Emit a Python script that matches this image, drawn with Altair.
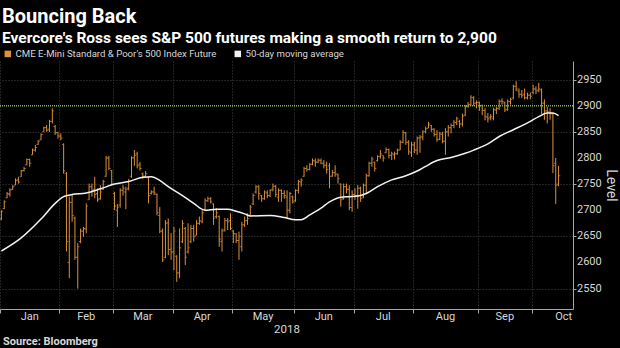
import altair as alt
import pandas as pd

# ---------------- data ----------------
SERIES_FUT = "CME E-Mini Standard & Poor's 500 Index Future"
SERIES_MA = "50-day moving average"

# one bar per trading day, index 0 = 2 Jan 2018
opens = [2683, 2703, 2724, 2730, 2740, 2748, 2758, 2764, 2776, 2787,
         2797, 2806, 2815, 2826, 2835, 2850, 2858, 2855, 2870, 2860,
         2848, 2842, 2826, 2770, 2600, 2715, 2685, 2610, 2640, 2660,
         2664, 2720, 2745, 2740, 2732, 2722, 2740, 2765, 2800, 2776,
         2732, 2700, 2710, 2738, 2735, 2742, 2765, 2800, 2808, 2788,
         2770, 2765, 2762, 2732, 2735, 2730, 2690, 2660, 2610, 2676,
         2625, 2620, 2612, 2580, 2640, 2665, 2620, 2640, 2665, 2652,
         2675, 2678, 2702, 2718, 2722, 2712, 2688, 2688, 2640, 2662,
         2680, 2680, 2660, 2655, 2642, 2630, 2672, 2680, 2690, 2712,
         2735, 2745, 2728, 2722, 2733, 2728, 2740, 2746, 2725, 2738,
         2732, 2725, 2700, 2726, 2718, 2738, 2754, 2765, 2780, 2778,
         2788, 2794, 2792, 2795, 2790, 2786, 2785, 2765, 2772, 2768,
         2750, 2722, 2745, 2740, 2705, 2730, 2728, 2742, 2725, 2748,
         2766, 2790, 2792, 2795, 2803, 2805, 2810, 2816, 2805, 2806,
         2808, 2815, 2830, 2848, 2830, 2810, 2825, 2815, 2838, 2840,
         2850, 2857, 2862, 2855, 2845, 2836, 2845, 2832, 2850, 2858,
         2862, 2868, 2870, 2865, 2882, 2899, 2902, 2915, 2905, 2906,
         2900, 2891, 2878, 2878, 2876, 2892, 2895, 2909, 2905, 2893,
         2908, 2915, 2937, 2928, 2922, 2922, 2915, 2920, 2925, 2932,
         2930, 2930, 2905, 2890, 2888, 2884, 2790, 2750]
highs = [2700, 2719, 2735, 2742, 2748, 2761, 2764, 2777, 2783, 2799,
         2799, 2818, 2825, 2834, 2847, 2860, 2863, 2873, 2895, 2863,
         2850, 2847, 2828, 2773, 2726, 2729, 2688, 2637, 2665, 2668,
         2713, 2751, 2751, 2764, 2742, 2748, 2758, 2804, 2804, 2777,
         2735, 2712, 2742, 2748, 2745, 2760, 2803, 2815, 2812, 2792,
         2772, 2775, 2764, 2738, 2745, 2732, 2706, 2665, 2681, 2684,
         2656, 2668, 2614, 2665, 2681, 2668, 2675, 2672, 2672, 2681,
         2688, 2700, 2723, 2726, 2725, 2713, 2704, 2690, 2665, 2685,
         2685, 2694, 2662, 2656, 2659, 2678, 2688, 2694, 2710, 2732,
         2748, 2748, 2729, 2738, 2738, 2740, 2751, 2748, 2742, 2740,
         2738, 2738, 2735, 2728, 2740, 2758, 2761, 2783, 2786, 2790,
         2799, 2799, 2799, 2799, 2796, 2793, 2790, 2777, 2786, 2770,
         2751, 2751, 2751, 2748, 2738, 2742, 2748, 2745, 2751, 2770,
         2793, 2802, 2793, 2805, 2815, 2805, 2820, 2818, 2812, 2812,
         2818, 2834, 2853, 2850, 2834, 2831, 2831, 2841, 2844, 2853,
         2860, 2869, 2863, 2857, 2853, 2850, 2850, 2857, 2863, 2866,
         2873, 2879, 2873, 2885, 2901, 2907, 2920, 2918, 2910, 2908,
         2902, 2895, 2886, 2884, 2896, 2898, 2912, 2914, 2908, 2912,
         2915, 2940, 2947, 2933, 2930, 2933, 2925, 2925, 2940, 2937,
         2944, 2933, 2912, 2898, 2895, 2886, 2800, 2785]
lows = [2681, 2702, 2723, 2726, 2739, 2748, 2751, 2764, 2774, 2786,
        2783, 2806, 2812, 2825, 2834, 2850, 2850, 2850, 2866, 2844,
        2837, 2834, 2770, 2621, 2570, 2678, 2605, 2550, 2637, 2649,
        2656, 2720, 2726, 2723, 2716, 2720, 2739, 2764, 2777, 2748,
        2700, 2668, 2705, 2728, 2702, 2738, 2762, 2785, 2780, 2776,
        2760, 2762, 2713, 2730, 2729, 2690, 2656, 2601, 2608, 2614,
        2605, 2585, 2563, 2570, 2637, 2595, 2617, 2637, 2640, 2652,
        2672, 2675, 2700, 2716, 2713, 2672, 2684, 2630, 2621, 2659,
        2662, 2662, 2637, 2637, 2605, 2621, 2668, 2672, 2688, 2710,
        2732, 2720, 2716, 2720, 2723, 2725, 2736, 2725, 2716, 2716,
        2722, 2684, 2694, 2713, 2716, 2732, 2745, 2764, 2774, 2776,
        2786, 2783, 2790, 2788, 2780, 2770, 2742, 2764, 2764, 2751,
        2707, 2720, 2732, 2700, 2697, 2720, 2703, 2716, 2723, 2732,
        2764, 2783, 2774, 2793, 2799, 2793, 2809, 2799, 2796, 2797,
        2806, 2815, 2828, 2825, 2806, 2802, 2809, 2806, 2810, 2834,
        2847, 2857, 2850, 2841, 2831, 2834, 2828, 2806, 2841, 2847,
        2857, 2863, 2857, 2860, 2880, 2896, 2900, 2900, 2895, 2890,
        2882, 2872, 2868, 2872, 2872, 2884, 2892, 2902, 2888, 2890,
        2902, 2912, 2928, 2915, 2915, 2912, 2912, 2912, 2922, 2922,
        2926, 2884, 2873, 2866, 2873, 2771, 2712, 2746]
closes = [2698, 2716, 2732, 2739, 2745, 2757, 2754, 2775, 2780, 2797,
          2790, 2815, 2820, 2832, 2845, 2858, 2853, 2870, 2890, 2848,
          2842, 2838, 2775, 2640, 2715, 2690, 2610, 2630, 2660, 2665,
          2708, 2745, 2738, 2730, 2720, 2735, 2755, 2800, 2780, 2750,
          2708, 2706, 2738, 2742, 2740, 2755, 2800, 2805, 2785, 2780,
          2765, 2770, 2728, 2735, 2733, 2695, 2660, 2605, 2675, 2625,
          2620, 2660, 2580, 2628, 2675, 2610, 2628, 2665, 2650, 2675,
          2680, 2695, 2718, 2722, 2716, 2685, 2695, 2645, 2660, 2680,
          2678, 2665, 2655, 2642, 2650, 2672, 2680, 2684, 2706, 2728,
          2745, 2732, 2722, 2735, 2728, 2738, 2746, 2730, 2738, 2732,
          2728, 2700, 2732, 2716, 2738, 2755, 2758, 2780, 2778, 2788,
          2795, 2792, 2796, 2790, 2786, 2778, 2765, 2772, 2770, 2760,
          2720, 2745, 2740, 2705, 2730, 2728, 2742, 2722, 2748, 2766,
          2790, 2798, 2780, 2803, 2808, 2800, 2816, 2805, 2808, 2808,
          2815, 2830, 2848, 2830, 2812, 2825, 2815, 2838, 2840, 2850,
          2856, 2865, 2855, 2845, 2835, 2846, 2832, 2850, 2858, 2862,
          2868, 2875, 2865, 2880, 2898, 2902, 2916, 2905, 2906, 2900,
          2891, 2880, 2875, 2879, 2892, 2894, 2908, 2908, 2892, 2908,
          2912, 2937, 2932, 2922, 2920, 2915, 2920, 2918, 2932, 2928,
          2932, 2905, 2890, 2888, 2885, 2785, 2748, 2766]

# 50-day moving average, read at sample days (trading-day index)
ma_day = [0, 7, 14, 19, 22, 25, 30, 35, 40, 45, 50, 53, 56, 59, 64, 68, 72,
          76, 80, 83, 86, 88, 95, 100, 104, 106, 109, 113, 116, 120, 123,
          126, 129, 133, 138, 143, 147, 150, 154, 159, 164, 167, 172, 176,
          181, 186, 190, 193, 195, 197]
ma_val = [2622, 2647, 2683, 2713, 2726, 2730, 2733, 2741, 2750, 2755, 2763,
          2764, 2757, 2745, 2728, 2713, 2700, 2702, 2702, 2698, 2693, 2689,
          2690, 2686, 2682, 2682, 2691, 2704, 2716, 2725, 2726, 2727, 2732,
          2745, 2758, 2766, 2775, 2784, 2795, 2801, 2809, 2815, 2827, 2841,
          2854, 2867, 2879, 2886, 2886, 2881]

month_names = ["Jan", "Feb", "Mar", "Apr", "May", "Jun", "Jul", "Aug", "Sep", "Oct"]
month_starts = [0, 21, 40, 61, 82, 104, 125, 146, 169, 188]
month_label_pos = [10.5, 30.5, 50.5, 71.5, 93, 114.5, 135.5, 157.5, 178.5, 199.3]
y_ticks = [2550, 2600, 2650, 2700, 2750, 2800, 2850, 2900, 2950]
target_level = [2900]
x_domain = [0, 202.6]
y_domain = [2511, 2985.5]

# ---------------- styling ----------------
ORANGE = "#dc913a"
WHITE = "#f2f2f2"
GREEN = "#86b83a"
GRID = "#454545"
AXIS = "#a8a8a8"
TEXT = "#d8d8d8"
FONT = "Roboto"
PLOT_W, PLOT_H = 573, 248

bars = pd.DataFrame({
    "t": [i + 0.5 for i in range(len(opens))],
    "open": opens, "high": highs, "low": lows, "close": closes,
    "series": [SERIES_FUT] * len(opens),
})
ma = pd.DataFrame({"t": [d + 0.5 for d in ma_day], "ma": ma_val,
                   "series": [SERIES_MA] * len(ma_day)})
months = pd.DataFrame({"name": month_names, "pos": month_label_pos})
ylabels = pd.DataFrame({"v": y_ticks})
level = pd.DataFrame({"level": target_level})
source = pd.DataFrame({"s": ["Source: Bloomberg"]})

xscale = alt.Scale(domain=x_domain, nice=False, zero=False)
yscale = alt.Scale(domain=y_domain, nice=False, zero=False)
cscale = alt.Scale(domain=[SERIES_FUT, SERIES_MA], range=[ORANGE, WHITE])

xaxis = alt.Axis(values=month_starts, labels=False, ticks=True, tickSize=4,
                 tickColor=AXIS, domain=True, domainColor=AXIS, grid=True,
                 gridColor=GRID, gridDash=[1, 2], title="2018", titleFont=FONT,
                 titleFontSize=11.5, titleFontWeight="normal", titleColor=TEXT,
                 titlePadding=10)
yaxis = alt.Axis(orient="right", values=y_ticks, labels=False, grid=True,
                 gridColor=GRID, gridDash=[1, 2], domain=True, domainColor=AXIS,
                 tickColor=AXIS, tickSize=3,
                 title="Level", titleFont=FONT, titleFontSize=14,
                 titleFontWeight="normal", titleColor=TEXT, titlePadding=27)

legend = alt.Legend(title=None, orient="none", legendX=3, legendY=-12,
                    direction="horizontal", symbolType="square", symbolSize=4,
                    symbolStrokeWidth=4.5, symbolOpacity=1, labelFont=FONT,
                    labelFontSize=9.6, labelColor=TEXT, labelOffset=3,
                    columnPadding=10, labelLimit=400)

color_enc = alt.Color("series:N", scale=cscale, legend=legend)

hl = alt.Chart(bars).mark_rule(strokeWidth=1).encode(
    x=alt.X("t:Q", scale=xscale, axis=xaxis),
    y=alt.Y("low:Q", scale=yscale, axis=yaxis),
    y2="high:Q",
    color=color_enc,
)
op = alt.Chart(bars).mark_tick(orient="horizontal", size=1.6, thickness=1,
                               xOffset=-0.9).encode(
    x="t:Q", y="open:Q", color=color_enc)
cl = alt.Chart(bars).mark_tick(orient="horizontal", size=1.6, thickness=1,
                               xOffset=0.9).encode(
    x="t:Q", y="close:Q", color=color_enc)

ma_line = alt.Chart(ma).mark_line(strokeWidth=1.5, interpolate="monotone").encode(
    x="t:Q", y="ma:Q", color=color_enc)

target = alt.Chart(level).mark_rule(color=GREEN, strokeWidth=1.6,
                                    strokeDash=[1, 1]).encode(y="level:Q")

# y tick labels, placed through the y scale just right of the axis line
ytext = alt.Chart(ylabels).mark_text(
    font=FONT, fontSize=11, color=TEXT, align="left", baseline="middle"
).encode(y="v:Q", x=alt.value(PLOT_W + 4), text=alt.Text("v:Q", format="d"))

month_text = alt.Chart(months).mark_text(
    font=FONT, fontSize=11, color=TEXT, baseline="alphabetic", align="center"
).encode(x="pos:Q", y=alt.value(PLOT_H + 11), text="name:N")

source_text = alt.Chart(source).mark_text(
    font=FONT, fontSize=11, fontWeight="bold", color=TEXT, align="left",
    baseline="alphabetic"
).encode(x=alt.value(3), y=alt.value(PLOT_H + 36), text="s:N")

chart = alt.layer(hl, target, op, cl, ma_line, ytext, month_text,
                  source_text).properties(
    width=PLOT_W, height=PLOT_H,
    autosize=alt.AutoSizeParams(type="none"),
    padding={"left": 0, "top": 61, "right": 47, "bottom": 39},
    title=alt.TitleParams(
        text="Bouncing Back",
        subtitle="Evercore's Ross sees S&P 500 futures making a smooth return to 2,900",
        anchor="start", frame="group", dx=2, offset=3,
        font=FONT, fontSize=20, fontWeight="bold", color="#ffffff",
        subtitleFont=FONT, subtitleFontSize=15.5, subtitleFontWeight="bold",
        subtitleColor="#ffffff", subtitlePadding=4),
).configure(background="#000000").configure_view(strokeWidth=0)

chart.save("out.html", embed_options={"renderer": "svg", "actions": False})
